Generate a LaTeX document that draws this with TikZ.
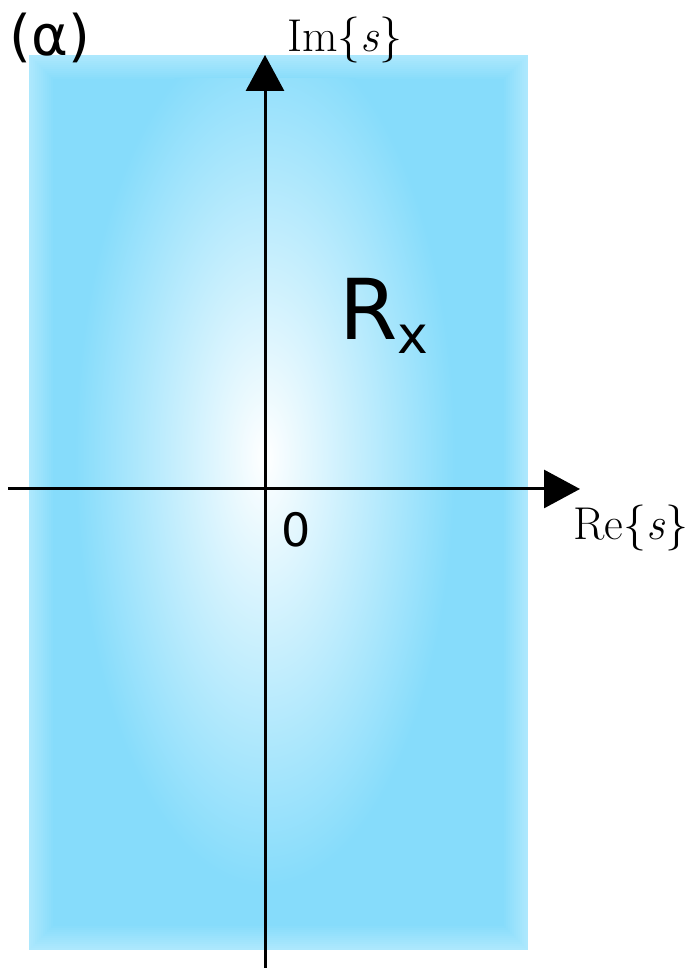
\documentclass[tikz,border=0pt]{standalone}
\usepackage{fontspec}
\newfontfamily\labelfont{DejaVu Sans}
\usetikzlibrary{arrows.meta}
\definecolor{edgeblue}{HTML}{ADE8FD}
\definecolor{planeblue}{HTML}{86DCFB}
\begin{document}
\begin{tikzpicture}[x=0.5pt,y=0.5pt,
    axis/.style={line width=1.5pt,-{Triangle[length=18pt,width=19pt]}},
    serifl/.style={font=\fontsize{23}{23}\selectfont},
    sansl/.style={font=\labelfont\fontsize{23}{23}\selectfont}]
    \useasboundingbox (0,0) rectangle (690,972);

    % Region of convergence
    \fill[edgeblue] (29,22) rectangle (528,917);
    \foreach \i in {1,...,12} {
        \pgfmathtruncatemacro{\mix}{\i*100/12}
        \fill[planeblue!\mix!edgeblue] (29+2*\i,22+2*\i) rectangle (528-2*\i,917-2*\i);
    }
    \begin{scope}
        \clip (53,46) rectangle (504,893);
        \shade[inner color=white, outer color=planeblue] (265,515) ellipse (190 and 430);
    \end{scope}

    % Axes
    \coordinate (west) at (8,483);
    \coordinate (east) at (580,483);
    \coordinate (south) at (265,4);
    \coordinate (north) at (265,917);
    \draw[axis] (west) -- (east);
    \draw[axis] (south) -- (north);

    % Labels
    \node[serifl] (imlabel) at (345,932) {Im\{\textit{s}\}};
    \node[serifl] (relabel) at (631,444) {Re\{\textit{s}\}};
    \node[sansl] (origin) at (296,442) {0};
    \node[font=\labelfont\fontsize{28}{28}\selectfont] (tag) at (50,934) {(α)};
    \node[font=\labelfont\fontsize{42}{42}\selectfont] (roc) at (384,656)
        {R\raisebox{-7pt}{\fontsize{26}{26}\selectfont x}};
\end{tikzpicture}
\end{document}
